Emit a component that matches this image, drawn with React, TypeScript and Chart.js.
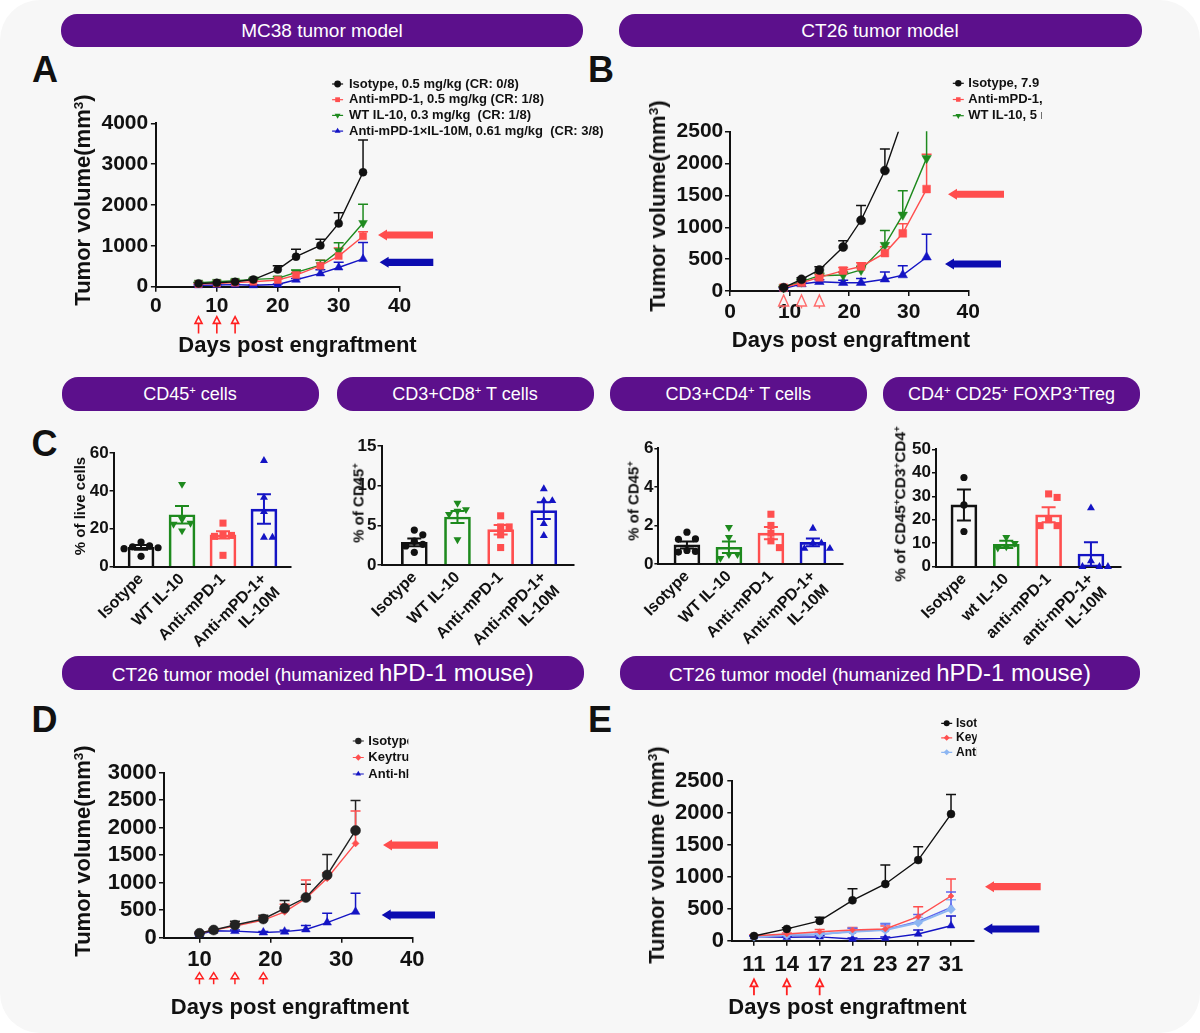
import React, { useEffect, useRef } from 'react';
import { Chart, registerables } from 'chart.js';

Chart.register(...registerables);

/* ===================== DATA ===================== */
// Panel A – MC38 tumor model
const daysA = [7, 10, 13, 16, 20, 23, 27, 30, 34];
const isotypeA = [80, 95, 120, 175, 420, 735, 1010, 1550, 2800];
const isotypeSemA = [15, 15, 20, 25, 95, 180, 150, 260, 790];
const antiPD1A = [65, 80, 100, 120, 165, 285, 515, 750, 1235];
const antiPD1SemA = [10, 10, 15, 20, 30, 60, 130, 200, 110];
const wtIL10A = [100, 120, 145, 180, 205, 350, 530, 875, 1560];
const wtIL10SemA = [10, 15, 20, 20, 40, 60, 120, 200, 460];
const comboA = [35, 40, 50, 35, 55, 170, 325, 470, 680];
const comboSemA = [5, 5, 10, 5, 10, 30, 90, 130, 400];
const doseDaysA = [7, 10, 13];
const legendA = [
  'Isotype, 0.5 mg/kg (CR: 0/8)',
  'Anti-mPD-1, 0.5 mg/kg (CR: 1/8)',
  'WT IL-10, 0.3 mg/kg  (CR: 1/8)',
  'Anti-mPD-1×IL-10M, 0.61 mg/kg  (CR: 3/8)',
];

// Panel B – CT26 tumor model
const daysB = [9, 12, 15, 19, 22, 26, 29, 33];
const isotypeB = [52, 183, 330, 690, 1110, 1890, 2700, 3600];
const isotypeSemB = [15, 25, 50, 100, 230, 340, 400, 500];
const antiPD1B = [52, 130, 215, 320, 385, 595, 905, 1600];
const antiPD1SemB = [15, 20, 40, 50, 60, 100, 150, 545];
const wtIL10B = [55, 146, 240, 250, 330, 720, 1195, 2085];
const wtIL10SemB = [15, 25, 40, 50, 60, 230, 380, 900];
const comboB = [40, 110, 145, 130, 130, 185, 250, 530];
const comboSemB = [10, 20, 30, 40, 65, 115, 145, 360];
const doseDaysB = [9, 12, 15];
const legendB = ['Isotype, 7.9 mg/kg', 'Anti-mPD-1, 5 mg/kg', 'WT IL-10, 5 mg/kg', 'Anti-mPD-1×IL-10M, 10 mg/kg'];

// Panel C – tumor infiltrating cells
const groupsC = ['Isotype', 'WT IL-10', 'Anti-mPD-1', ['Anti-mPD-1+', 'IL-10M']];
const groupsTreg = ['Isotype', 'wt IL-10', 'anti-mPD-1', ['anti-mPD-1+', 'IL-10M']];

const cd45Mean = [10.2, 27.4, 16.8, 30.4];
const cd45Sem = [1.2, 4.6, 1.9, 7.8];
const cd45Isotype = [13, 11, 10.5, 10, 9.5, 5.5];
const cd45WT = [43.5, 25, 23, 22.5, 19];
const cd45Anti = [23, 17, 16.5, 16, 6];
const cd45Combo = [56, 36.5, 29, 15.5, 15.5];

const cd8Mean = [2.85, 6.05, 4.45, 6.85];
const cd8Sem = [0.5, 0.75, 0.6, 1.05];
const cd8Isotype = [4.4, 3.8, 3.0, 2.6, 2.4, 1.6];
const cd8WT = [7.8, 7.0, 6.8, 6.4, 3.2];
const cd8Anti = [6.2, 4.8, 4.8, 3.8, 2.2];
const cd8Combo = [9.6, 8.1, 8.1, 5.2, 3.7];

const cd4Mean = [0.99, 0.87, 1.6, 1.12];
const cd4Sem = [0.18, 0.3, 0.32, 0.2];
const cd4Isotype = [1.65, 1.3, 1.28, 0.7, 0.65, 0.62];
const cd4WT = [1.9, 1.38, 0.5, 0.5, 0.3];
const cd4Anti = [2.58, 2.0, 1.6, 1.2, 0.85];
const cd4Combo = [1.85, 1.08, 1.08, 0.8, 0.8];

const tregMean = [26.3, 9.5, 22.1, 5.4];
const tregSem = [6.6, 1.5, 3.2, 5.0];
const tregIsotype = [38, 26.3, 15];
const tregWT = [12.5, 10, 8.5, 8];
const tregAnti = [31, 29.5, 20, 17.5, 17.5];
const tregCombo = [25, 2.5, 0, 0, 0];

// Panel D – CT26 in hPD-1 mice
const daysD = [10, 12, 15, 19, 22, 25, 28, 32];
const isotypeD = [80, 140, 230, 340, 535, 730, 1140, 1950];
const isotypeSemD = [15, 20, 70, 70, 140, 240, 375, 545];
const keytrudaD = [80, 140, 210, 320, 470, 715, 1080, 1715];
const keytrudaSemD = [15, 20, 50, 60, 140, 335, 100, 590];
const comboD = [60, 125, 120, 95, 110, 150, 275, 470];
const comboSemD = [10, 15, 20, 20, 25, 70, 170, 340];
const doseDaysD = [10, 12, 15, 19];
const legendD = ['Isotype', 'Keytruda', 'Anti-hPD-1×IL-10M'];

// Panel E – CT26 in hPD-1 mice (dose groups)
const daysE = ['11', '14', '17', '21', '23', '27', '31'];
const isotypeE = [73, 184, 309, 631, 886, 1260, 1979];
const isotypeSemE = [10, 20, 56, 182, 297, 209, 307];
const keytrudaE = [78, 105, 140, 167, 183, 375, 698];
const keytrudaSemE = [10, 15, 35, 40, 45, 156, 266];
const comboLowE = [62, 88, 105, 141, 167, 281, 490];
const comboLowSemE = [10, 15, 25, 55, 104, 80, 150];
const comboMidE = [60, 82, 98, 145, 172, 300, 520];
const comboMidSemE = [10, 15, 20, 50, 90, 110, 240];
const comboHighE = [63, 55, 60, 26, 37, 104, 234];
const comboHighSemE = [10, 10, 20, 15, 20, 63, 152];
const doseDaysE = ['11', '14', '17'];
const legendE = ['Isotype', 'Keytruda', 'Anti-hPD-1×IL-10M', 'Anti-hPD-1×IL-10M', 'Anti-hPD-1×IL-10M'];

/* ===================== STYLE ===================== */
const FONT = '"Liberation Sans", Arial, Helvetica, sans-serif';
const INK = '#111111';
const CARD = '#f7f7f7';
const PURPLE = '#5c108c';
const BLACK = '#111111';
const RED = '#ff4f4f';
const GREEN = '#1e8a1e';
const BLUE = '#1414c4';
const LIGHTBLUE = '#8db6f2';
const MIDBLUE = '#5f66ee';
const ARROW_RED = '#ff4d4d';
const ARROW_BLUE = '#0c0cb0';
const DOSE_RED = '#ff2020';

/* ===================== DRAW HELPERS ===================== */
function drawMarker(ctx: any, style: string, x: number, y: number, r: number, rot: number, color: string) {
  ctx.save();
  ctx.fillStyle = color;
  ctx.translate(x, y);
  ctx.rotate(((rot || 0) * Math.PI) / 180);
  ctx.beginPath();
  if (style === 'circle') {
    ctx.arc(0, 0, r, 0, Math.PI * 2);
  } else if (style === 'rect') {
    const h = r * Math.SQRT1_2;
    ctx.rect(-h, -h, 2 * h, 2 * h);
  } else if (style === 'rectRot') {
    ctx.moveTo(0, -r);
    ctx.lineTo(r, 0);
    ctx.lineTo(0, r);
    ctx.lineTo(-r, 0);
    ctx.closePath();
  } else {
    for (let k = 0; k < 3; k++) {
      const a = (k * 2 * Math.PI) / 3;
      const px = Math.sin(a) * r;
      const py = -Math.cos(a) * r;
      if (k === 0) ctx.moveTo(px, py);
      else ctx.lineTo(px, py);
    }
    ctx.closePath();
  }
  ctx.fill();
  ctx.restore();
}

function drawErrors(chart: any, phase: string) {
  const { ctx, chartArea: ca, scales } = chart;
  const y = scales.y;
  ctx.save();
  ctx.beginPath();
  ctx.rect(ca.left - 30, ca.top - 0.5, ca.right - ca.left + 60, ca.bottom - ca.top + 30);
  ctx.clip();
  chart.data.datasets.forEach((ds: any, di: number) => {
    if (!ds.sem) return;
    if ((ds.errPhase || 'before') !== phase) return;
    const meta = chart.getDatasetMeta(di);
    meta.data.forEach((el: any, i: number) => {
      const e = ds.sem[i];
      if (e == null) return;
      const v = ds.data[i].y;
      const col = Array.isArray(ds.errColor) ? ds.errColor[i] : ds.errColor || ds.borderColor;
      const x = el.x;
      const yTop = y.getPixelForValue(v + e);
      const yBot = ds.errBoth ? y.getPixelForValue(Math.max(0, v - e)) : y.getPixelForValue(v);
      const c = ds.capHalf || 5;
      ctx.strokeStyle = col;
      ctx.lineWidth = ds.errWidth || 1.5;
      ctx.beginPath();
      ctx.moveTo(x, yBot);
      ctx.lineTo(x, yTop);
      ctx.moveTo(x - c, yTop);
      ctx.lineTo(x + c, yTop);
      if (ds.errBoth) {
        ctx.moveTo(x - c, yBot);
        ctx.lineTo(x + c, yBot);
      }
      ctx.stroke();
    });
  });
  ctx.restore();
}

const errorBarsPlugin = {
  id: 'errorBars',
  beforeDatasetsDraw(chart: any) {
    drawErrors(chart, 'before');
  },
  afterDatasetsDraw(chart: any) {
    drawErrors(chart, 'after');
  },
};

function doseArrowPlugin(values: number[], st: any) {
  return {
    id: 'doseArrows',
    afterDraw(chart: any) {
      const { ctx, chartArea: ca, scales } = chart;
      ctx.save();
      ctx.strokeStyle = st.color;
      ctx.lineWidth = st.lw;
      values.forEach((v) => {
        const px = scales.x.getPixelForValue(v);
        const top = ca.bottom + st.off;
        ctx.beginPath();
        ctx.moveTo(px, top);
        ctx.lineTo(px - st.halfW, top + st.headH);
        ctx.lineTo(px + st.halfW, top + st.headH);
        ctx.closePath();
        ctx.moveTo(px, top + st.headH);
        ctx.lineTo(px, top + st.headH + st.stem);
        ctx.stroke();
      });
      ctx.restore();
    },
  };
}

function sideArrowPlugin(items: any[]) {
  return {
    id: 'sideArrows',
    afterDraw(chart: any) {
      const { ctx, chartArea: ca, scales } = chart;
      items.forEach((a) => {
        const py = scales.y.getPixelForValue(a.v);
        const x0 = ca.right + a.dx0;
        const x1 = ca.right + a.dx1;
        const hl = 9;
        const hh = 5.5;
        const sh = 3.6;
        ctx.save();
        ctx.fillStyle = a.color;
        ctx.beginPath();
        ctx.moveTo(x0, py);
        ctx.lineTo(x0 + hl, py - hh);
        ctx.lineTo(x0 + hl, py - sh);
        ctx.lineTo(x1, py - sh);
        ctx.lineTo(x1, py + sh);
        ctx.lineTo(x0 + hl, py + sh);
        ctx.lineTo(x0 + hl, py + hh);
        ctx.closePath();
        ctx.fill();
        ctx.restore();
      });
    },
  };
}

function miniLegendPlugin(lg: any, g: any) {
  return {
    id: 'miniLegend',
    afterDraw(chart: any) {
      const { ctx } = chart;
      ctx.save();
      ctx.beginPath();
      ctx.rect(0, 0, lg.clipR - g.L, lg.clipB - g.T);
      ctx.clip();
      chart.data.datasets.slice(0, lg.count).forEach((ds: any, i: number) => {
        const y = lg.y0 - g.T + i * lg.rowH;
        const mx = lg.mx - g.L;
        ctx.strokeStyle = ds.borderColor;
        ctx.lineWidth = 1.2;
        ctx.beginPath();
        ctx.moveTo(mx - 5.5, y);
        ctx.lineTo(mx + 5.5, y);
        ctx.stroke();
        drawMarker(ctx, ds.pointStyle, mx, y, lg.r, ds.pointRotation, ds.borderColor);
        ctx.fillStyle = INK;
        ctx.font = `bold ${lg.font}px ${FONT}`;
        ctx.textBaseline = 'middle';
        ctx.textAlign = 'left';
        ctx.fillText(ds.label, lg.tx - g.L, y);
      });
      ctx.restore();
    },
  };
}

// individual values drawn as a small beeswarm around each group centre
function dotsPlugin(groups: number[][], colors: string[], styles: any[]) {
  return {
    id: 'dots',
    afterDatasetsDraw(chart: any) {
      const { ctx, scales } = chart;
      const step = 8.5;
      const minDist = 7.6;
      const order = [0, 1, -1, 2, -2, 3, -3, 4, -4];
      groups.forEach((vals, gi) => {
        const cx = scales.x.getPixelForValue(gi);
        const [style, rot, r] = styles[gi];
        const placed: { x: number; y: number }[] = [];
        vals.forEach((v) => {
          const py = scales.y.getPixelForValue(v);
          let px = cx;
          for (const k of order) {
            const tx = cx + k * step;
            if (placed.every((p) => Math.hypot(p.x - tx, p.y - py) >= minDist)) {
              px = tx;
              break;
            }
          }
          placed.push({ x: px, y: py });
          drawMarker(ctx, style, px, py, r, rot, colors[gi]);
        });
      });
    },
  };
}

function gridOpts(tickLen: number, drawTicks: boolean) {
  return { display: true, drawOnChartArea: false, drawTicks, tickLength: tickLen, color: INK, lineWidth: 1.5, offset: false };
}
function borderOpts() {
  return { display: true, color: INK, width: 2 };
}

/* ===================== CHART BUILDERS ===================== */
function buildLine(s: any) {
  const g = s.geo;
  const tickFont = { family: FONT, size: s.tickFont, weight: 'bold' };
  return {
    type: 'line',
    data: {
      datasets: s.series.map((se: any) => ({
        label: se.label,
        data: s.xs.map((x: number, i: number) => ({ x, y: se.values[i] })),
        sem: se.sem,
        borderColor: se.color,
        backgroundColor: se.color,
        pointBackgroundColor: se.color,
        pointBorderColor: se.color,
        borderWidth: se.lw || 1.4,
        pointBorderWidth: 0.5,
        pointStyle: se.style,
        pointRotation: se.rot || 0,
        pointRadius: se.r,
        tension: 0,
        clip: { left: 12, top: 0, right: 12, bottom: 12 },
      })),
    },
    options: {
      responsive: false,
      animation: false,
      devicePixelRatio: 1,
      events: [],
      layout: { padding: { left: 0, top: g.t - g.T, right: g.R - g.r, bottom: 0 } },
      plugins: { legend: { display: false }, tooltip: { enabled: false } },
      scales: {
        x: {
          type: 'linear',
          min: s.xMin,
          max: s.xMax,
          grid: gridOpts(s.tickLen, true),
          border: borderOpts(),
          ticks: {
            stepSize: s.xStep,
            includeBounds: false,
            autoSkip: false,
            maxRotation: 0,
            minRotation: 0,
            font: tickFont,
            color: INK,
            padding: s.xPad,
            callback: s.xLabels ? (v: number) => (s.xLabels[v] !== undefined ? s.xLabels[v] : '') : (v: number) => String(v),
          },
          afterFit: (sc: any) => {
            sc.height = g.B - g.b;
          },
        },
        y: {
          type: 'linear',
          min: 0,
          max: s.yMax,
          grid: gridOpts(s.tickLen, true),
          border: borderOpts(),
          ticks: { stepSize: s.yStep, autoSkip: false, font: tickFont, color: INK, padding: s.yPad, callback: (v: number) => String(v) },
          afterFit: (sc: any) => {
            sc.width = g.l - g.L;
          },
        },
      },
    },
    plugins: [errorBarsPlugin, doseArrowPlugin(s.doses, s.dose), sideArrowPlugin(s.arrows), miniLegendPlugin(s.legend, g)],
  };
}

const C_COLORS = [BLACK, GREEN, RED, BLUE];
const C_STYLES = [
  ['circle', 0, 3.6],
  ['triangle', 180, 4.6],
  ['rect', 0, 5],
  ['triangle', 0, 4.6],
];

function buildBar(s: any) {
  const g = s.geo;
  return {
    type: 'bar',
    data: {
      datasets: [
        {
          label: 'mean',
          data: s.means.map((m: number, i: number) => ({ x: i, y: m })),
          sem: s.sems,
          errBoth: true,
          errPhase: 'after',
          errColor: C_COLORS,
          capHalf: 7,
          errWidth: 2,
          borderColor: C_COLORS,
          backgroundColor: 'rgba(0,0,0,0)',
          borderWidth: 2,
          borderSkipped: 'bottom',
          barThickness: 26,
        },
      ],
    },
    options: {
      responsive: false,
      animation: false,
      devicePixelRatio: 1,
      events: [],
      layout: { padding: { left: 0, top: g.t - g.T, right: g.R - g.r, bottom: 0 } },
      plugins: { legend: { display: false }, tooltip: { enabled: false } },
      scales: {
        x: {
          type: 'linear',
          offset: false,
          min: s.xMin,
          max: s.xMax,
          grid: gridOpts(0, false),
          border: borderOpts(),
          ticks: {
            stepSize: 1,
            includeBounds: false,
            autoSkip: false,
            minRotation: 45,
            maxRotation: 45,
            font: { family: FONT, size: 16, weight: 'bold' },
            color: INK,
            padding: 3,
            callback: (v: number) => (s.labels[v] !== undefined ? s.labels[v] : ''),
          },
          afterFit: (sc: any) => {
            sc.height = g.B - g.b;
          },
        },
        y: {
          type: 'linear',
          min: 0,
          max: s.yMax,
          grid: gridOpts(4, true),
          border: borderOpts(),
          ticks: { stepSize: s.yStep, autoSkip: false, font: { family: FONT, size: 17, weight: 'bold' }, color: INK, padding: 1, callback: (v: number) => String(v) },
          afterFit: (sc: any) => {
            sc.width = g.l - g.L;
          },
        },
      },
    },
    plugins: [errorBarsPlugin, dotsPlugin(s.points, C_COLORS, C_STYLES)],
  };
}

/* ===================== CHART SPECS ===================== */
const geoA = { L: 90, T: 60, R: 615, B: 340, l: 155.9, t: 123.3, r: 399.6, b: 286.7 };
const specA = {
  geo: geoA,
  xs: daysA,
  series: [
    { label: legendA[0], values: isotypeA, sem: isotypeSemA, color: BLACK, style: 'circle', r: 4 },
    { label: legendA[1], values: antiPD1A, sem: antiPD1SemA, color: RED, style: 'rect', r: 5 },
    { label: legendA[2], values: wtIL10A, sem: wtIL10SemA, color: GREEN, style: 'triangle', rot: 180, r: 5 },
    { label: legendA[3], values: comboA, sem: comboSemA, color: BLUE, style: 'triangle', r: 5 },
  ],
  xMin: 0, xMax: 40, xStep: 10, yMax: 4000, yStep: 1000,
  tickFont: 21, xPad: 1.5, yPad: 2.7, tickLen: 5,
  doses: doseDaysA,
  dose: { off: 30, headH: 6.7, halfW: 3.5, stem: 10, color: DOSE_RED, lw: 1.6 },
  arrows: [
    { v: 1265, color: ARROW_RED, dx0: -21.6, dx1: 33.4 },
    { v: 597, color: ARROW_BLUE, dx0: -20, dx1: 33.7 },
  ],
  legend: { mx: 337.6, tx: 349, y0: 84, rowH: 15.7, font: 13, clipR: 615, clipB: 200, count: 4, r: 3.4 },
};

const geoB = { L: 640, T: 60, R: 1045, B: 330, l: 730, t: 131.7, r: 968.3, b: 291 };
const specB = {
  geo: geoB,
  xs: daysB,
  series: [
    { label: legendB[0], values: isotypeB, sem: isotypeSemB, color: BLACK, style: 'circle', r: 4.5 },
    { label: legendB[1], values: antiPD1B, sem: antiPD1SemB, color: RED, style: 'rect', r: 5.5 },
    { label: legendB[2], values: wtIL10B, sem: wtIL10SemB, color: GREEN, style: 'triangle', rot: 180, r: 5.5 },
    { label: legendB[3], values: comboB, sem: comboSemB, color: BLUE, style: 'triangle', r: 5.5 },
  ],
  xMin: 0, xMax: 40, xStep: 10, yMax: 2500, yStep: 500,
  tickFont: 21, xPad: 4, yPad: 1.7, tickLen: 5,
  doses: doseDaysB,
  dose: { off: 4, headH: 11, halfW: 5, stem: 2.5, color: '#ff6b6b', lw: 1.4 },
  arrows: [
    { v: 1518, color: ARROW_RED, dx0: -20.3, dx1: 35.7 },
    { v: 424, color: ARROW_BLUE, dx0: -23.3, dx1: 32.7 },
  ],
  legend: { mx: 958.3, tx: 968.3, y0: 83.3, rowH: 16.2, font: 13, clipR: 1042, clipB: 121, count: 3, r: 3.2 },
};

const geoD = { L: 95, T: 720, R: 445, B: 995, l: 164, t: 772.7, r: 412.3, b: 937.7 };
const specD = {
  geo: geoD,
  xs: daysD,
  series: [
    { label: legendD[0], values: isotypeD, sem: isotypeSemD, color: '#222222', style: 'circle', r: 5 },
    { label: legendD[1], values: keytrudaD, sem: keytrudaSemD, color: RED, style: 'rectRot', r: 3.5 },
    { label: legendD[2], values: comboD, sem: comboSemD, color: BLUE, style: 'triangle', r: 5 },
  ],
  xMin: 5, xMax: 40, xStep: 10, yMax: 3000, yStep: 500,
  tickFont: 22, xPad: 3.7, yPad: 2.3, tickLen: 5,
  doses: doseDaysD,
  dose: { off: 35, headH: 6, halfW: 3.8, stem: 5.5, color: DOSE_RED, lw: 1.5 },
  arrows: [
    { v: 1685, color: ARROW_RED, dx0: -29.3, dx1: 25.7 },
    { v: 413, color: ARROW_BLUE, dx0: -30.6, dx1: 22.7 },
  ],
  legend: { mx: 358.3, tx: 368.3, y0: 741, rowH: 16.5, font: 13, clipR: 408.3, clipB: 800, count: 3, r: 3.2 },
};

const geoE = { L: 660, T: 700, R: 1045, B: 1000, l: 732.3, t: 780.7, r: 974, b: 940.7 };
const specE = {
  geo: geoE,
  xs: daysE.map((_, i) => i),
  xLabels: daysE,
  series: [
    { label: legendE[0], values: isotypeE, sem: isotypeSemE, color: BLACK, style: 'circle', r: 4 },
    { label: legendE[1], values: keytrudaE, sem: keytrudaSemE, color: RED, style: 'rectRot', r: 3 },
    { label: legendE[2], values: comboLowE, sem: comboLowSemE, color: LIGHTBLUE, style: 'rectRot', r: 4.5, lw: 2 },
    { label: legendE[3], values: comboMidE, sem: comboMidSemE, color: MIDBLUE, style: 'triangle', r: 4 },
    { label: legendE[4], values: comboHighE, sem: comboHighSemE, color: BLUE, style: 'triangle', r: 4.5 },
  ],
  xMin: -0.66, xMax: 6.7, xStep: 1, yMax: 2500, yStep: 500,
  tickFont: 22, xPad: 5.7, yPad: 3.3, tickLen: 5,
  doses: doseDaysE.map((d) => daysE.indexOf(d)),
  dose: { off: 38.6, headH: 7, halfW: 3.5, stem: 9, color: DOSE_RED, lw: 1.8 },
  arrows: [
    { v: 844, color: ARROW_RED, dx0: 11, dx1: 66.7 },
    { v: 183, color: ARROW_BLUE, dx0: 9.3, dx1: 65.3 },
  ],
  legend: { mx: 946.7, tx: 956, y0: 723.3, rowH: 14.5, font: 12, clipR: 976.7, clipB: 800, count: 3, r: 3 },
};

const specC1 = {
  geo: { L: 85, T: 430, R: 300, B: 650, l: 113.6, t: 453, r: 291, b: 566.7 },
  xMin: -0.67, xMax: 3.66, yMax: 60, yStep: 20, labels: groupsC,
  means: cd45Mean, sems: cd45Sem, points: [cd45Isotype, cd45WT, cd45Anti, cd45Combo],
};
const specC2 = {
  geo: { L: 350, T: 425, R: 585, B: 650, l: 381.5, t: 446, r: 573.6, b: 565 },
  xMin: -0.76, xMax: 3.69, yMax: 15, yStep: 5, labels: groupsC,
  means: cd8Mean, sems: cd8Sem, points: [cd8Isotype, cd8WT, cd8Anti, cd8Combo],
};
const specC3 = {
  geo: { L: 625, T: 425, R: 852, B: 650, l: 658.4, t: 448.3, r: 842.3, b: 564 },
  xMin: -0.68, xMax: 3.7, yMax: 6, yStep: 2, labels: groupsC,
  means: cd4Mean, sems: cd4Sem, points: [cd4Isotype, cd4WT, cd4Anti, cd4Combo],
};
const specC4 = {
  geo: { L: 900, T: 425, R: 1135, B: 650, l: 936, t: 449.3, r: 1121, b: 566.7 },
  xMin: -0.66, xMax: 3.71, yMax: 50, yStep: 10, labels: groupsTreg,
  means: tregMean, sems: tregSem, points: [tregIsotype, tregWT, tregAnti, tregCombo],
};

/* ===================== COMPONENTS ===================== */
function ChartCanvas({ geo, make }: any) {
  const ref = useRef<HTMLCanvasElement | null>(null);
  useEffect(() => {
    if (!ref.current) return;
    const chart = new Chart(ref.current, make());
    return () => {
      chart.destroy();
    };
  }, []);
  const w = geo.R - geo.L;
  const h = geo.B - geo.T;
  return (
    <canvas
      ref={ref}
      width={w}
      height={h}
      style={{ position: 'absolute', left: geo.L, top: geo.T, width: w, height: h }}
    />
  );
}

const supStyle: any = { fontSize: '0.62em', verticalAlign: '0.55em', lineHeight: 0 };

function Label({ x, y, size, rot, children, weight = 'bold', color = INK }: any) {
  return (
    <div
      style={{
        position: 'absolute',
        left: x,
        top: y,
        transform: `translate(-50%, -50%)${rot ? ' rotate(-90deg)' : ''}`,
        fontFamily: FONT,
        fontSize: size,
        fontWeight: weight,
        whiteSpace: 'nowrap',
        lineHeight: 1,
        color,
      }}
    >
      {children}
    </div>
  );
}

function Pill({ x0, y0, x1, y1, size = 19, children }: any) {
  return (
    <div
      style={{
        position: 'absolute',
        left: x0,
        top: y0,
        width: x1 - x0,
        height: y1 - y0,
        borderRadius: 16,
        background: PURPLE,
        color: '#ffffff',
        fontFamily: FONT,
        fontSize: size,
        display: 'flex',
        alignItems: 'center',
        justifyContent: 'center',
        whiteSpace: 'nowrap',
        lineHeight: 1,
      }}
    >
      <span>{children}</span>
    </div>
  );
}

export default function App() {
  return (
    <div style={{ position: 'absolute', left: 0, top: 0, width: 1200, height: 1033, background: '#ffffff', overflow: 'hidden' }}>
      <div style={{ position: 'absolute', left: 0, top: 0, width: 1200, height: 1033, background: CARD, borderRadius: 40 }} />

      {/* header pills */}
      <Pill x0={61} y0={14} x1={583} y1={47}>MC38 tumor model</Pill>
      <Pill x0={618.5} y0={14} x1={1141.5} y1={47}>CT26 tumor model</Pill>
      <Pill x0={61.5} y0={377} x1={318.5} y1={410.5} size={18}>
        CD45<sup style={supStyle}>+</sup> cells
      </Pill>
      <Pill x0={336.5} y0={377} x1={593.5} y1={410.5} size={18}>
        CD3+CD8<sup style={supStyle}>+</sup> T cells
      </Pill>
      <Pill x0={609.5} y0={377} x1={867} y1={410.5} size={18}>
        CD3+CD4<sup style={supStyle}>+</sup> T cells
      </Pill>
      <Pill x0={883} y0={377} x1={1140} y1={410.5} size={18}>
        CD4<sup style={supStyle}>+</sup> CD25<sup style={supStyle}>+</sup> FOXP3<sup style={supStyle}>+</sup>Treg
      </Pill>
      <Pill x0={61.5} y0={656} x1={584} y1={690}>
        CT26 tumor model (humanized <span style={{ fontSize: 24 }}>hPD-1 mouse)</span>
      </Pill>
      <Pill x0={620} y0={656} x1={1140} y1={690}>
        CT26 tumor model (humanized <span style={{ fontSize: 24 }}>hPD-1 mouse)</span>
      </Pill>

      {/* panel letters */}
      <Label x={45} y={70} size={36}>A</Label>
      <Label x={601} y={70} size={36}>B</Label>
      <Label x={44.5} y={443.5} size={36}>C</Label>
      <Label x={44.5} y={720} size={36}>D</Label>
      <Label x={600} y={720} size={36}>E</Label>

      {/* charts */}
      <ChartCanvas geo={geoA} make={() => buildLine(specA)} />
      <ChartCanvas geo={geoB} make={() => buildLine(specB)} />
      <ChartCanvas geo={specC1.geo} make={() => buildBar(specC1)} />
      <ChartCanvas geo={specC2.geo} make={() => buildBar(specC2)} />
      <ChartCanvas geo={specC3.geo} make={() => buildBar(specC3)} />
      <ChartCanvas geo={specC4.geo} make={() => buildBar(specC4)} />
      <ChartCanvas geo={geoD} make={() => buildLine(specD)} />
      <ChartCanvas geo={geoE} make={() => buildLine(specE)} />

      {/* axis titles */}
      <Label x={83} y={200} size={22} rot>
        Tumor volume(mm<sup style={supStyle}>3</sup>)
      </Label>
      <Label x={297.5} y={345} size={22}>Days post engraftment</Label>
      <Label x={658} y={206} size={22} rot>
        Tumor volume(mm<sup style={supStyle}>3</sup>)
      </Label>
      <Label x={851} y={340} size={22}>Days post engraftment</Label>

      <Label x={79} y={506} size={15} rot>% of live cells</Label>
      <Label x={358} y={503} size={15} rot>
        % of CD45<sup style={supStyle}>+</sup>
      </Label>
      <Label x={632.5} y={500.5} size={15} rot>
        % of CD45<sup style={supStyle}>+</sup>
      </Label>
      <Label x={899.5} y={504} size={15.5} rot>
        % of CD45<sup style={supStyle}>+</sup>CD3<sup style={supStyle}>+</sup>CD4<sup style={supStyle}>+</sup>
      </Label>

      <Label x={82.5} y={850.5} size={22} rot>
        Tumor volume(mm<sup style={supStyle}>3</sup>)
      </Label>
      <Label x={290} y={1006.5} size={22}>Days post engraftment</Label>
      <Label x={657} y={855} size={22} rot>
        Tumor volume (mm<sup style={supStyle}>3</sup>)
      </Label>
      <Label x={847.5} y={1006.5} size={22}>Days post engraftment</Label>
    </div>
  );
}
